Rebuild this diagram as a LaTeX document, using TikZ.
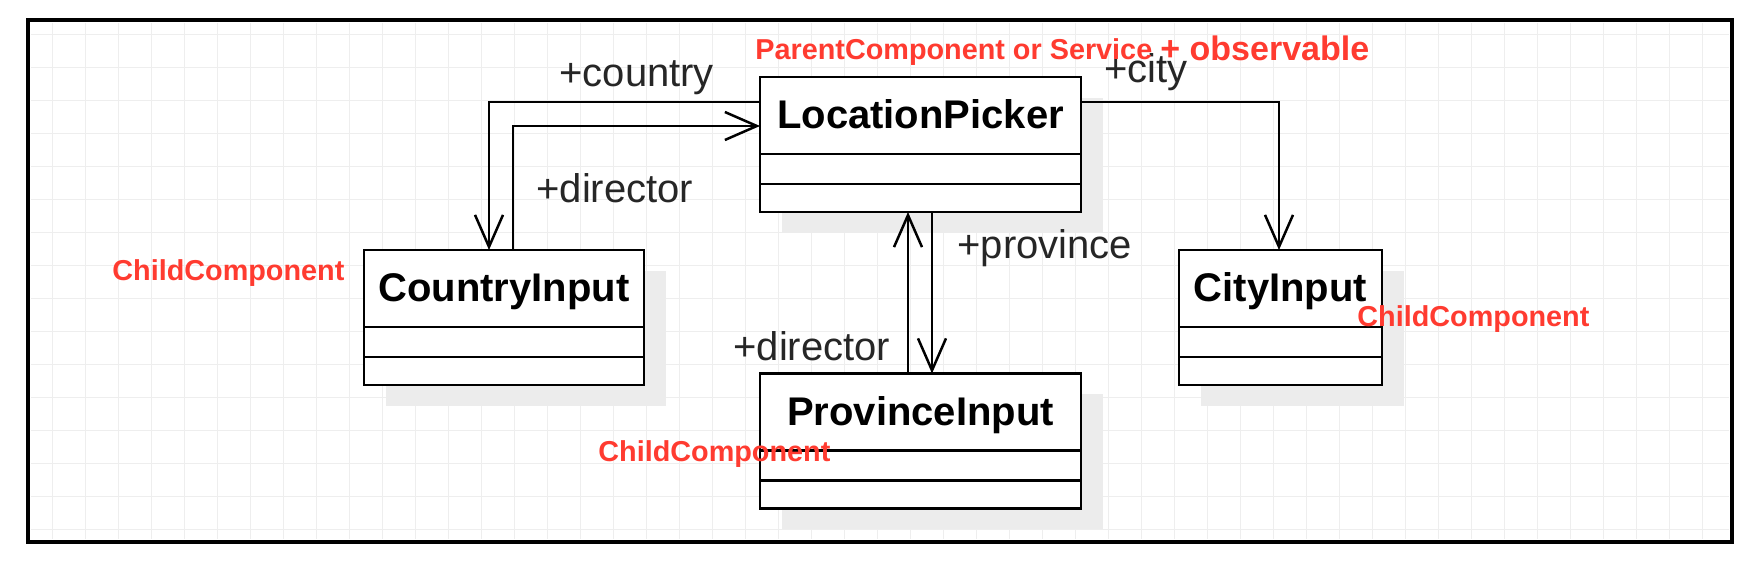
\documentclass[tikz,border=0pt]{standalone}
\usepackage{fontspec}
\setmainfont{Liberation Sans}
\usetikzlibrary{arrows.meta,calc,shadows}
\definecolor{redlbl}{RGB}{255,59,48}
\definecolor{shadowgray}{RGB}{236,236,236}
\definecolor{gridgray}{RGB}{238,238,238}
\tikzset{
  umlbox/.style={draw=black, line width=1.4pt, fill=white, inner sep=0pt, outer sep=0pt,
    minimum height=67.5pt,
    drop shadow={shadow xshift=11pt, shadow yshift=-10.5pt, fill=shadowgray, opacity=1}},
  divider/.style={draw=black, line width=1.4pt},
  umltitle/.style={inner sep=0pt, anchor=base, font=\bfseries\fontsize{20}{24}\selectfont},
  rolelbl/.style={inner sep=0pt, anchor=base west, font=\fontsize{20}{24}\selectfont, text=black!85},
  notelbl/.style={inner sep=0pt, anchor=base west, font=\bfseries\fontsize{14.4}{17}\selectfont, text=redlbl},
  bignote/.style={inner sep=0pt, anchor=base west, font=\bfseries\fontsize{17}{20}\selectfont, text=redlbl},
  assoc/.style={line width=1.25pt, -{Straight Barb[length=16pt,width=14pt]}},
  gridline/.style={draw=gridgray, line width=0.5pt},
  frameline/.style={draw=black, line width=1.6pt}
}
\begin{document}
\begin{tikzpicture}[x=0.5pt,y=-0.5pt]
\useasboundingbox (0,0) rectangle (1752,566);
\fill[white] (0,0) rectangle (1752,566);
% grid
\foreach \gx in {52,85,...,1720} \draw[gridline] (\gx,23) -- (\gx,539);
\foreach \gy in {35,68,...,530} \draw[gridline] (31,\gy) -- (1729,\gy);
% frame
\draw[frameline] (28,20) rectangle (1732,542);

% boxes
\node[umlbox, minimum width=160.5pt] (lp) at (920.5,144.5) {};
\node[umlbox, minimum width=140pt] (ci) at (504,317.5) {};
\node[umlbox, minimum width=160.5pt] (pi) at (920.5,441) {};
\node[umlbox, minimum width=101.5pt] (city) at (1280.5,317.5) {};

\foreach \b in {lp,ci,pi,city}{
  \draw[divider] ($(\b.north west)+(0,77)$) -- ($(\b.north east)+(0,77)$);
  \draw[divider] ($(\b.north west)+(0,107)$) -- ($(\b.north east)+(0,107)$);
}

\node[umltitle] (lpt) at (920.5,129) {LocationPicker};
\node[umltitle] (cit) at (504,302) {CountryInput};
\node[umltitle] (pit) at (920.5,426) {ProvinceInput};
\node[umltitle] (cyt) at (1280.5,302) {CityInput};

% connectors
\draw[assoc] ($(lp.north west)+(0,25)$) -| ($(ci.north west)+(125,0)$);
\draw[assoc] ($(ci.north west)+(149,0)$) |- ($(lp.north west)+(0,49)$);
\draw[assoc] ($(lp.north east)+(0,25)$) -| ($(city.north west)+(100,0)$);
\draw[assoc] ($(lp.south west)+(172,0)$) -- ($(pi.north west)+(172,0)$);
\draw[assoc] ($(pi.north west)+(148,0)$) -- ($(lp.south west)+(148,0)$);

% role labels
\node[rolelbl] (lcountry) at (559,87) {+country};
\node[rolelbl] (ldir1) at (536,203) {+director};
\node[rolelbl] (lcity) at (1104,83) {+city};
\node[rolelbl] (lprov) at (957,259) {+province};
\node[rolelbl] (ldir2) at (733,361) {+director};

% red notes
\node[notelbl] (nparent) at (755,60) {ParentComponent or Service};
\node[bignote] (nobs) at (1160,61) {+ observable};
\node[notelbl] (nchild1) at (112,281) {ChildComponent};
\node[notelbl] (nchild2) at (1357,327) {ChildComponent};
\node[notelbl] (nchild3) at (598,462) {ChildComponent};
\end{tikzpicture}
\end{document}
